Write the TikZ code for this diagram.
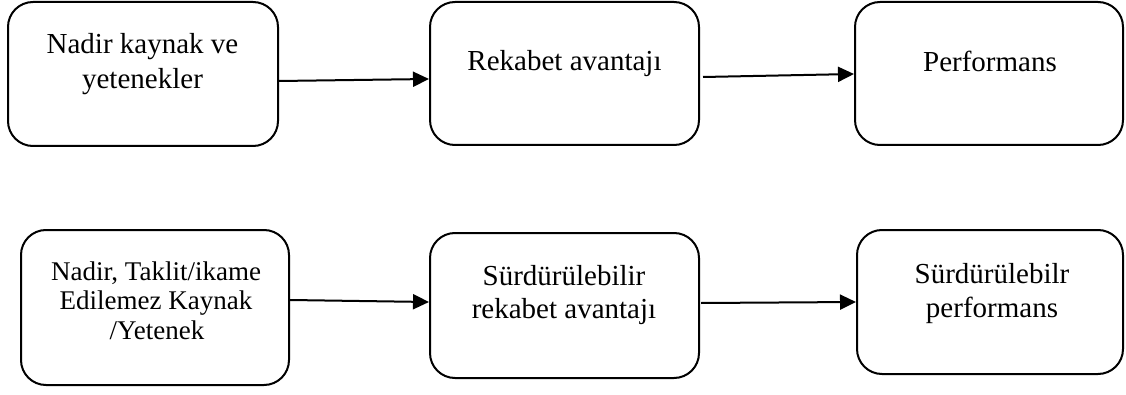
\documentclass[tikz,border=0pt]{standalone}
\usepackage{fontspec}
\setmainfont{Liberation Serif}
\usetikzlibrary{arrows.meta}

\tikzset{
  box/.style={draw, line width=2pt, rounded corners=25pt, inner sep=0pt},
  lbl/.style={anchor=base, inner sep=0pt, font=\fontsize{29}{34}\selectfont},
  lblsmall/.style={anchor=base, inner sep=0pt, font=\fontsize{27}{30}\selectfont},
  flow/.style={line width=2pt, -{Triangle[length=16pt,width=15pt]}}
}

\begin{document}
\begin{tikzpicture}[x=1pt,y=1pt]
\useasboundingbox (0,0) rectangle (1126,394);

% top row
\node[box, minimum width=270pt, minimum height=144pt] (b1) at (143,320) {};
\node[box, minimum width=269pt, minimum height=143pt] (b2) at (564.5,320.5) {};
\node[box, minimum width=268pt, minimum height=143pt] (b3) at (989,320.5) {};

\node[lbl] (b1a) at (142.5,340) {Nadir kaynak ve};
\node[lbl] (b1b) at (142.5,305) {yetenekler};
\node[lbl] (b2a) at (564.5,323) {Rekabet avantajı};
\node[lbl] (b3a) at (990,322) {Performans};

% bottom row
\node[box, minimum width=268pt, minimum height=155pt] (b4) at (155,86.5) {};
\node[box, minimum width=269pt, minimum height=145pt] (b5) at (564.5,88.5) {};
\node[box, minimum width=266pt, minimum height=144pt] (b6) at (990,92) {};

\node[lblsmall] (b4a) at (156,114) {Nadir, Taklit/ikame};
\node[lblsmall] (b4b) at (156,85) {Edilemez Kaynak};
\node[lblsmall] (b4c) at (157,55) {/Yetenek};
\node[lbl] (b5a) at (564,109) {Sürdürülebilir};
\node[lbl] (b5b) at (564,76) {rekabet avantajı};
\node[lbl] (b6a) at (992,111) {Sürdürülebilr};
\node[lbl] (b6b) at (992,77) {performans};

% connectors
\draw[flow] ([yshift=-7pt]b1.east) -- ([yshift=-5.5pt]b2.west);
\draw[flow] ([xshift=3pt,yshift=-3.5pt]b2.east) -- ([yshift=-0.5pt]b3.west);
\draw[flow] ([yshift=7.5pt]b4.east) -- ([yshift=3.5pt]b5.west);
\draw[flow] ([xshift=1pt,yshift=2.5pt]b5.east) -- ([yshift=0pt]b6.west);
\end{tikzpicture}
\end{document}
